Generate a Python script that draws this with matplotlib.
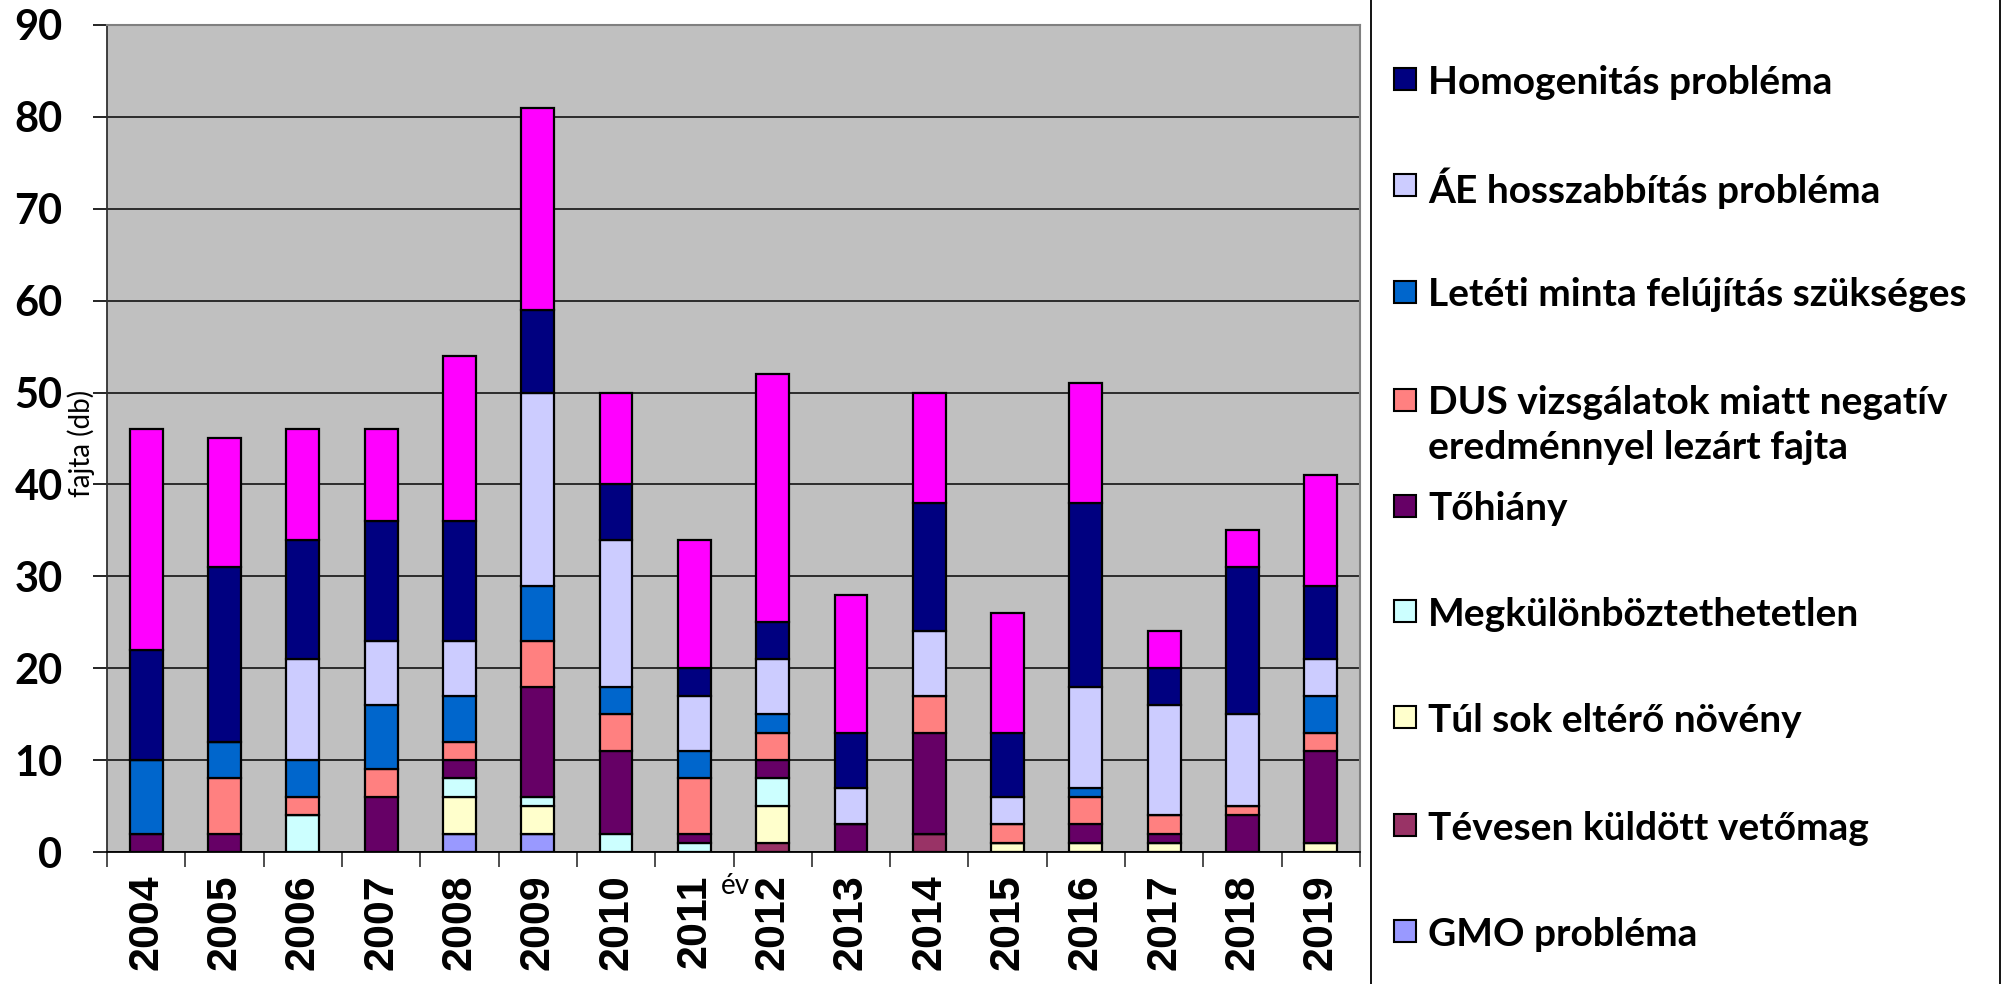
"""
Stacked bar chart: rejected plant varieties by reason, 2004-2019.
"""

import numpy as np
import matplotlib
matplotlib.use("Agg")
import matplotlib.pyplot as plt
from matplotlib.patches import Rectangle

# --------------------------------------------------
# DATA (bottom of the stack first)
# --------------------------------------------------
years = [str(y) for y in range(2004, 2020)]

gmo = [0, 0, 0, 0, 2, 2, 0, 0, 0, 0, 0, 0, 0, 0, 0, 0]
teves = [0, 0, 0, 0, 0, 0, 0, 0, 1, 0, 2, 0, 0, 0, 0, 0]
tul_sok = [0, 0, 0, 0, 4, 3, 0, 0, 4, 0, 0, 1, 1, 1, 0, 1]
megkul = [0, 0, 4, 0, 2, 1, 2, 1, 3, 0, 0, 0, 0, 0, 0, 0]
tohiany = [2, 2, 0, 6, 2, 12, 9, 1, 2, 3, 11, 0, 2, 1, 4, 10]
dus = [0, 6, 2, 3, 2, 5, 4, 6, 3, 0, 4, 2, 3, 2, 1, 2]
leteti = [8, 4, 4, 7, 5, 6, 3, 3, 2, 0, 0, 0, 1, 0, 0, 4]
ae = [0, 0, 11, 7, 6, 21, 16, 6, 6, 4, 7, 3, 11, 12, 10, 4]
homog = [12, 19, 13, 13, 13, 9, 6, 3, 4, 6, 14, 7, 20, 4, 16, 8]
magenta = [24, 14, 12, 10, 18, 22, 10, 14, 27, 15, 12, 13, 13, 4, 4, 12]

series = [gmo, teves, tul_sok, megkul, tohiany, dus, leteti, ae, homog, magenta]
colors = ["#9999FF", "#993366", "#FFFFCC", "#CCFFFF", "#660066",
          "#FF8080", "#0066CC", "#CCCCFF", "#000080", "#FF00FF"]

# legend entries, top to bottom (the magenta one is cut off in the original)
legend_labels = [
    "Homogenitás probléma",
    "ÁE hosszabbítás probléma",
    "Letéti minta felújítás szükséges",
    "DUS vizsgálatok miatt negatív\neredménnyel lezárt fajta",
    "Tőhiány",
    "Megkülönböztethetetlen",
    "Túl sok eltérő növény",
    "Tévesen küldött vetőmag",
    "GMO probléma",
]
legend_colors = colors[8::-1]

# --------------------------------------------------
# LAYOUT (pixels, origin top-left)
# --------------------------------------------------
W, H = 2005, 984
LEGEND_Y = [79, 185, 292, 400, 506, 611, 717, 825, 931]
LINE_GAP = 45


def fx(px):
    return px / W


def fy(py):
    return 1 - py / H


fig = plt.figure(figsize=(W / 100, H / 100), dpi=100)
ax = fig.add_axes([fx(107), fy(852), fx(1360) - fx(107), fy(25) - fy(852)])
ax.set_facecolor("#C0C0C0")

x = np.arange(len(years))
bottom = np.zeros(len(years))
for vals, col in zip(series, colors):
    ax.bar(x, vals, width=0.42, bottom=bottom, color=col,
           edgecolor="black", linewidth=1.6, zorder=3)
    bottom += np.array(vals)

ax.set_xlim(-0.5, len(years) - 0.5)
ax.set_ylim(0, 90)
ax.set_yticks(range(0, 91, 10))
ax.yaxis.grid(True, color="#202020", linewidth=1.3, zorder=1)
ax.set_axisbelow(True)

ax.set_xticks(x)
ax.set_xticklabels(years, rotation=90, fontfamily="Liberation Sans",
                   fontweight="bold", fontsize=31)
ax.set_xticks(np.arange(-0.5, len(years)), minor=True)
ax.tick_params(axis="x", which="major", length=0, pad=16)
ax.tick_params(axis="x", which="minor", length=11, width=1.2, color="#303030")
ax.tick_params(axis="y", length=10, width=1.2, pad=22)
for lab in ax.get_yticklabels():
    lab.set_fontfamily("Lato")
    lab.set_fontweight("bold")
    lab.set_fontsize(30)

for side in ["top", "right"]:
    ax.spines[side].set_color("#808080")
    ax.spines[side].set_linewidth(1.5)
ax.spines["left"].set_color("#303030")
ax.spines["left"].set_linewidth(1.3)
ax.spines["bottom"].set_color("black")
ax.spines["bottom"].set_linewidth(1.3)

# axis titles sit in odd places in the original
fig.text(fx(81), fy(443), "fajta (db)", rotation=90, ha="center", va="center",
         fontfamily="Lato", fontsize=20)
fig.text(fx(735), fy(886), "év", ha="center", va="center",
         fontfamily="Lato", fontsize=20)

# --------------------------------------------------
# LEGEND BOX
# --------------------------------------------------
fig.patches.append(Rectangle((fx(1371), -0.1), fx(2000) - fx(1371), 1.2,
                             transform=fig.transFigure, fill=False,
                             edgecolor="black", linewidth=1.3))
for lab, col, yc in zip(legend_labels, legend_colors, LEGEND_Y):
    fig.patches.append(Rectangle((fx(1394), fy(yc + 11)), fx(22), 22 / H,
                                 transform=fig.transFigure, facecolor=col,
                                 edgecolor="black", linewidth=1.5))
    for k, line in enumerate(lab.split("\n")):
        fig.text(fx(1428), fy(yc + k * LINE_GAP), line, ha="left",
                 va="center_baseline", fontfamily="Lato", fontweight="bold",
                 fontsize=28)

fig.savefig("out.png", dpi=100)
